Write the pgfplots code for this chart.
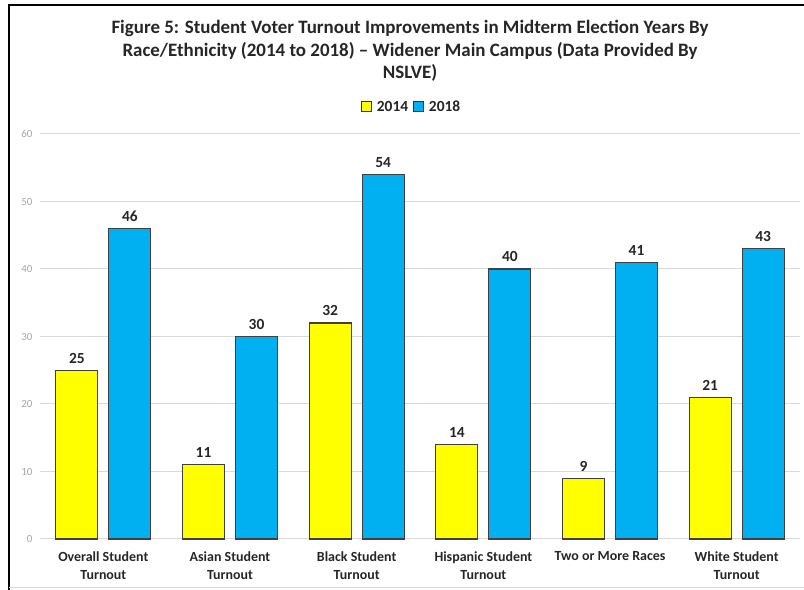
\documentclass[border=0pt]{standalone}
\usepackage{pgfplots}
\pgfplotsset{compat=1.18}
\usepackage{fontspec}
\setmainfont{Carlito}
\definecolor{byellow}{HTML}{FFFF00}
\definecolor{bblue}{HTML}{00B0F0}
\definecolor{gridc}{HTML}{D9D9D9}
\begin{document}
\begin{tikzpicture}[x=1bp,y=1bp]
\useasboundingbox (0,0) rectangle (804,590);
\draw[line width=2bp] (9,0) -- (9,584.5) -- (804,584.5);
\draw[gridc, line width=1bp] (9,2) -- (804,2);
\node[align=center, font=\fontsize{19}{22.5}\selectfont\bfseries, text=black!85] at (410,539)
  {Figure 5: Student Voter Turnout Improvements in Midterm Election Years By\\
   Race/Ethnicity (2014 to 2018) -- Widener Main Campus (Data Provided By\\
   NSLVE)};
\begin{axis}[
  at={(40bp,51bp)}, anchor=south west,
  scale only axis, width=760bp, height=405bp,
  ybar=11bp, bar width=42bp,
  xmin=-0.5, xmax=5.5, ymin=0, ymax=60,
  ytick={0,10,...,60},
  xtick={0,1,2,3,4,5},
  xticklabels={Overall Student\\Turnout, Asian Student\\Turnout, Black Student\\Turnout, Hispanic Student\\Turnout, Two or More Races, White Student\\Turnout},
  xticklabel style={align=center, font=\fontsize{14}{18}\selectfont\bfseries, text=black!85, anchor=north, yshift=-9bp},
  yticklabel style={font=\fontsize{11}{12}\selectfont, text=black!35, xshift=-4bp},
  /pgf/number format/assume math mode=true,
  major tick length=0pt,
  axis line style={draw=none},
  ymajorgrids, grid style={gridc, line width=1bp},
  nodes near coords,
  every node near coord/.append style={font=\fontsize{15.5}{17}\selectfont\bfseries, text=black!85, yshift=3bp},
  legend columns=2,
  legend style={at={(0.489,1.067)}, anchor=center, draw=none, font=\fontsize{15.5}{17}\selectfont\bfseries, text=black!85, column sep=3bp},
  legend image code/.code={\draw[#1, draw=black!80, line width=0.8bp] (0bp,-5bp) rectangle (10bp,5bp);},
  clip=false,
]
\addplot[fill=byellow, draw=black!75, line width=1.2bp] coordinates {(0,25) (1,11) (2,32) (3,14) (4,9) (5,21)};
\addplot[fill=bblue, draw=black!75, line width=1.2bp] coordinates {(0,46) (1,30) (2,54) (3,40) (4,41) (5,43)};
\legend{2014, 2018}
\end{axis}
\end{tikzpicture}
\end{document}
